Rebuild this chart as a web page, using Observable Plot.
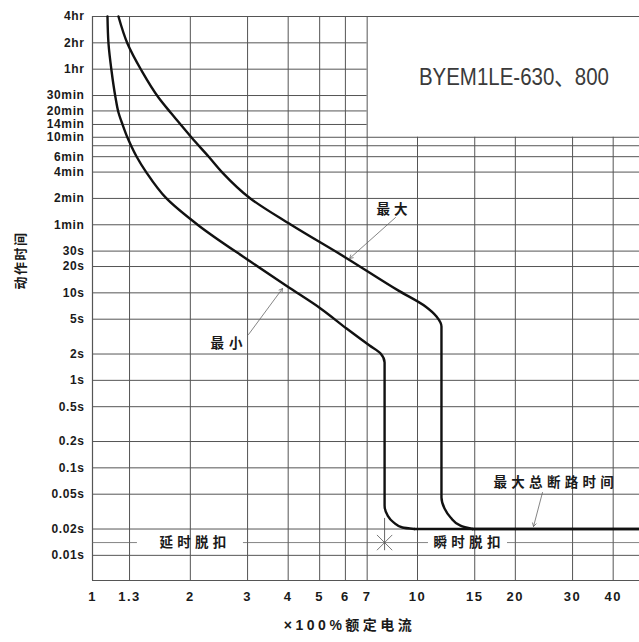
<!DOCTYPE html>
<html>
<head>
<meta charset="utf-8">
<script src="https://cdn.jsdelivr.net/npm/d3@7"></script>
<script src="https://cdn.jsdelivr.net/npm/@observablehq/plot@0.6"></script>
<style>
  html, body { margin: 0; padding: 0; background: #fff; }
</style>
</head>
<body>
<div id="chart"></div>
<script>
// ---- scales ----
const xDomain = [1, 48.2];          // multiples of rated current
const yDomain = [0.00516, 14400];   // seconds

// ---- ticks / grid ----
const xTickValues = [1, 1.3, 2, 3, 4, 5, 6, 7, 10, 15, 20, 30, 40];
const xTickLabels = ["1", "1.3", "2", "3", "4", "5", "6", "7", "10", "15", "20", "30", "40"];
const xGrid = [1.3, 2, 3, 4, 5, 6, 7, 10, 15, 20, 30, 40];

const yTickValues = [14400, 7200, 3600, 1800, 1200, 840, 600, 360, 240, 120, 60, 30, 20, 10, 5, 2, 1, 0.5, 0.2, 0.1, 0.05, 0.02, 0.01];
const yTickLabels = ["4hr", "2hr", "1hr", "30min", "20min", "14min", "10min", "6min", "4min", "2min", "1min", "30s", "20s", "10s", "5s", "2s", "1s", "0.5s", "0.2s", "0.1s", "0.05s", "0.02s", "0.01s"];
const yGrid = [7200, 3600, 1800, 1200, 840, 600, 480, 360, 240, 120, 60, 30, 20, 10, 5, 2, 1, 0.5, 0.2, 0.1, 0.05, 0.02, 0.01];

// blank title box (upper right): x beyond 7, time above 10min
const boxX = 7;
const boxT = 600;

// ---- curves [multiple, seconds], top to bottom ----
const minCurve = [
  [1.112, 14400], [1.120, 7075], [1.144, 3477], [1.177, 1708], [1.202, 1151],
  [1.237, 840], [1.281, 596], [1.318, 471], [1.366, 362], [1.466, 237],
  [1.689, 120], [2.12, 58.9], [3.06, 22.8], [3.98, 11.8], [5.03, 6.63],
  [6.05, 3.91], [7.12, 2.50], [7.70, 2.03], [7.92, 1.60], [7.92, 0.3],
  [7.92, 0.0371], [8.09, 0.0286], [8.44, 0.0238], [8.99, 0.0208], [9.79, 0.02]
];
const maxCurve = [
  [1.202, 14400], [1.281, 7075], [1.415, 3477], [1.596, 1708], [1.738, 1151],
  [1.866, 840], [2.017, 596], [2.275, 362], [2.51, 237],
  [3.06, 119.8], [4.07, 60.4], [6.00, 25.4], [8.74, 10.6], [10.58, 6.99],
  [11.44, 5.37], [11.85, 4.13], [11.85, 0.3], [11.85, 0.0458], [12.11, 0.0343],
  [12.64, 0.0271], [13.56, 0.0219], [14.76, 0.02]
];
// common instantaneous floor (maximum total clearing time)
const floorT = 0.02;

// ---- trip-zone guide line ----
const tripLineT = 0.014;
const tripLineSegments = [[1, 1.375], [2.914, 10.81], [18.92, 48.2]];
const tripMarkX = 7.92;
const tripMarkSpan = [0.0113, 0.0264];

// ---- annotations ----
const modelName = "BYEM1LE-630、800";
const modelPos = [10.1, 2900];
const labelTexts = ["最大", "最小", "最大总断路时间", "延时脱扣", "瞬时脱扣"];
const labelX = [7.478, 2.307, 17.13, 1.607, 11.2];
const labelT = [89.7, 2.60, 0.068, 0.014, 0.014];
const arrowFrom = [[8.556, 72.6], [3.02, 3.34], [24.24, 0.0523]];
const arrowTo = [[6.18, 24.7], [3.842, 11.2], [22.75, 0.02137]];
const yAxisTitle = "动作时间";
const xAxisTitle = "×100%额定电流";
const xAxisTitleX = 6.18;

const labels = labelTexts.map((text, i) => ({text, x: labelX[i], t: labelT[i]}));
const arrows = arrowFrom.map((f, i) => ({x1: f[0], y1: f[1], x2: arrowTo[i][0], y2: arrowTo[i][1]}));
const floorSegments = [[minCurve[minCurve.length - 1][0], xDomain[1]], [maxCurve[maxCurve.length - 1][0], xDomain[1]]];

const gridStroke = "#555";
const latin = "Liberation Sans, Arial, sans-serif";
const cjk = "Liberation Sans, 'Noto Sans CJK SC', sans-serif";

const chart = Plot.plot({
  width: 639,
  height: 642,
  marginLeft: 92,
  marginRight: 0,
  marginTop: 16,
  marginBottom: 62,
  style: {
    fontFamily: latin,
    fontSize: "13px",
    fontWeight: "bold",
    color: "#1a1a1a",
    background: "#fff"
  },
  x: {type: "log", domain: xDomain, axis: null},
  y: {type: "log", domain: yDomain, axis: null},
  marks: [
    // horizontal grid (stops at the title box)
    Plot.ruleY(yGrid, {y: (d) => d, x1: () => xDomain[0], x2: (d) => (d > boxT ? boxX : xDomain[1]), stroke: gridStroke, strokeWidth: 1}),
    // vertical grid (stops at the title box)
    Plot.ruleX(xGrid, {x: (d) => d, y1: () => yDomain[0], y2: (d) => (d > boxX ? boxT : yDomain[1]), stroke: gridStroke, strokeWidth: 1}),
    // frame: left, bottom, top
    Plot.ruleX([xDomain[0]], {x: (d) => d, y1: () => yDomain[0], y2: () => yDomain[1], stroke: gridStroke, strokeWidth: 1.2}),
    Plot.ruleY(yDomain, {y: (d) => d, x1: () => xDomain[0], x2: () => xDomain[1], stroke: gridStroke, strokeWidth: 1.2}),
    // tick labels
    Plot.text(xTickValues, {x: (d) => d, text: (d, i) => xTickLabels[i], frameAnchor: "bottom", lineAnchor: "top", dy: 11, fontSize: 13, fontWeight: "bold", fontFamily: latin, fill: "#1a1a1a"}),
    Plot.text(yTickValues, {y: (d) => d, text: (d, i) => yTickLabels[i], frameAnchor: "left", textAnchor: "end", dx: -8, fontSize: 12, fontWeight: "bold", fontFamily: latin, fill: "#1a1a1a"}),
    // trip guide line and marker
    Plot.ruleY(tripLineSegments, {y: () => tripLineT, x1: (d) => d[0], x2: (d) => d[1], stroke: "#666", strokeWidth: 0.8}),
    Plot.ruleX([tripMarkX], {x: (d) => d, y1: () => tripMarkSpan[0], y2: () => tripMarkSpan[1], stroke: "#555", strokeWidth: 0.9}),
    Plot.dot([[tripMarkX, tripLineT]], {x: (d) => d[0], y: (d) => d[1], symbol: "times", r: 7, stroke: "#555", strokeWidth: 0.8}),
    // curves
    Plot.line(minCurve, {x: (d) => d[0], y: (d) => d[1], curve: "monotone-y", stroke: "#111", strokeWidth: 2.4}),
    Plot.line(maxCurve, {x: (d) => d[0], y: (d) => d[1], curve: "monotone-y", stroke: "#111", strokeWidth: 2.4}),
    Plot.ruleY(floorSegments, {y: () => floorT, x1: (d) => d[0], x2: (d) => d[1], stroke: "#111", strokeWidth: 2.4}),
    // arrows
    Plot.arrow(arrows, {x1: "x1", y1: "y1", x2: "x2", y2: "y2", stroke: "#666", strokeWidth: 0.8, headLength: 7}),
    // labels
    Plot.text(labels, {x: "x", y: "t", text: "text", textAnchor: "start", fontFamily: "'Noto Sans CJK SC', sans-serif", fontWeight: "bold", fontSize: 13.5, fill: "#1a1a1a"}),
    Plot.text([modelName], {x: () => modelPos[0], y: () => modelPos[1], text: (d) => d, textAnchor: "start", fontFamily: cjk, fontWeight: "normal", fontSize: 23, fill: "#3a3a3a"}),
    Plot.text([yAxisTitle], {text: (d) => d, frameAnchor: "left", dx: -72, dy: -9, rotate: -90, fontFamily: "'Noto Sans CJK SC', sans-serif", fontWeight: "bold", fontSize: 13, fill: "#1a1a1a"}),
    Plot.text([xAxisTitle], {x: () => xAxisTitleX, text: (d) => d, frameAnchor: "bottom", dy: 49, fontFamily: cjk, fontWeight: "bold", fontSize: 14, fill: "#1a1a1a"})
  ]
});

document.getElementById("chart").appendChild(chart);

// letter spacing / text fitting
const spacing = {
  "最大": 4, "最小": 5, "最大总断路时间": 4.3, "延时脱扣": 4.3, "瞬时脱扣": 4.3,
  "动作时间": 1.5, "×100%额定电流": 3.5
};
xTickLabels.forEach((s) => { spacing[s] = 1.5; });
yTickLabels.forEach((s) => { spacing[s] = 0.6; });
const svg = chart.tagName.toLowerCase() === "svg" ? chart : chart.querySelector("svg");
d3.select(svg).selectAll("text").each(function () {
  const t = this.textContent;
  if (spacing[t] != null) this.style.letterSpacing = spacing[t] + "px";
  if (t === modelName) {
    this.setAttribute("textLength", 190);
    this.setAttribute("lengthAdjust", "spacingAndGlyphs");
  }
});
</script>
</body>
</html>
